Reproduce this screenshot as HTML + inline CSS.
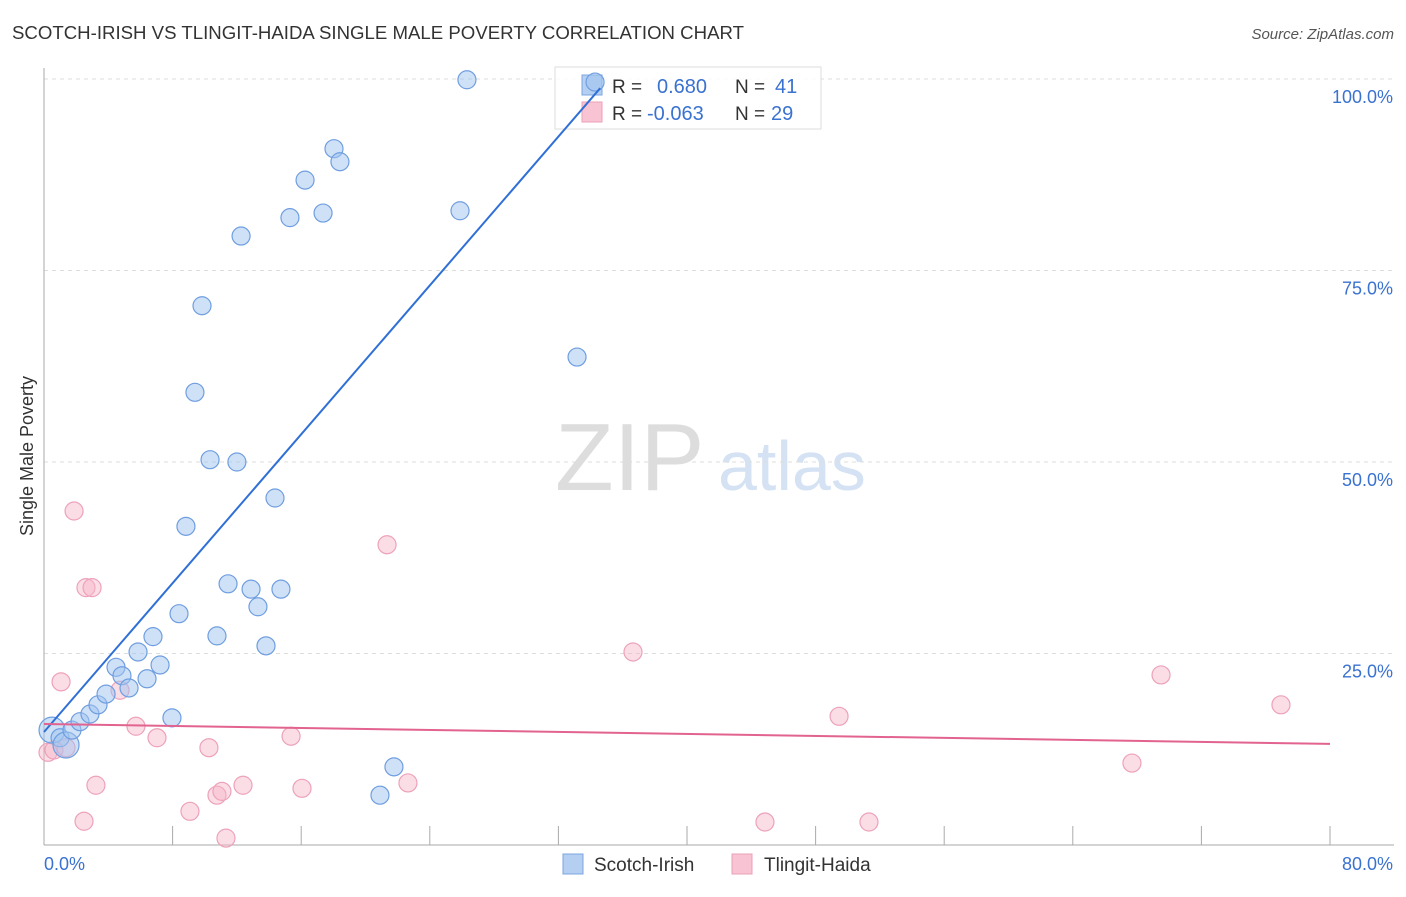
<!DOCTYPE html>
<html><head><meta charset="utf-8"><style>
body{margin:0;background:#fff;font-family:"Liberation Sans",sans-serif;}
svg text{font-family:"Liberation Sans",sans-serif;}
</style></head><body>
<svg id="chart" width="1406" height="892">
<text x="12" y="39" font-size="18" fill="#333" textLength="732" lengthAdjust="spacingAndGlyphs">SCOTCH-IRISH VS TLINGIT-HAIDA SINGLE MALE POVERTY CORRELATION CHART</text>
<text x="1394" y="39" font-size="15" fill="#555" font-style="italic" text-anchor="end">Source: ZipAtlas.com</text>
<text x="33" y="456" font-size="18" fill="#333" text-anchor="middle" transform="rotate(-90 33 456)">Single Male Poverty</text>
<text x="555" y="490" font-size="96" fill="#ddd" font-family="Liberation Serif">ZIP</text>
<text x="718" y="490" font-size="70" fill="#d4e2f4">atlas</text>
<g id="grid"></g>
<g>
<rect x="555" y="67" width="266" height="62" fill="#fff" fill-opacity="0.85" stroke="#ddd"/>
<rect x="582" y="75" width="20" height="20" fill="#b5cff2" stroke="#7aa6e0"/>
<rect x="582" y="102" width="20" height="20" fill="#f8c3d3" stroke="#eba0b8"/>
<text x="612" y="93" font-size="19" fill="#333">R = </text><text x="657" y="93" font-size="20" fill="#3a72d0">0.680</text>
<text x="735" y="93" font-size="19" fill="#333">N = </text><text x="775" y="93" font-size="20" fill="#3a72d0">41</text>
<text x="612" y="120" font-size="19" fill="#333">R = </text><text x="647" y="120" font-size="20" fill="#3a72d0">-0.063</text>
<text x="735" y="120" font-size="19" fill="#333">N = </text><text x="771" y="120" font-size="20" fill="#3a72d0">29</text>
</g>
<g id="pts"></g><g id="lines"></g>
<g>
<rect x="563" y="854" width="20" height="20" fill="#b5cff2" stroke="#7aa6e0"/>
<text x="594" y="871" font-size="19" fill="#333">Scotch-Irish</text>
<rect x="732" y="854" width="20" height="20" fill="#f8c3d3" stroke="#eba0b8"/>
<text x="764" y="871" font-size="19" fill="#333">Tlingit-Haida</text>
</g>
</svg>
<script>
const yTicks=[25,50,75,100];
const yTickLabels=["25.0%","50.0%","75.0%","100.0%"];
const blueX=[0.5,1.0,1.37,1.74,2.24,2.86,3.36,3.86,4.48,4.85,5.29,5.85,6.41,6.78,7.22,7.96,8.4,8.83,9.39,9.83,10.33,10.76,11.45,12.0,12.26,12.88,13.31,13.81,14.37,14.74,15.3,16.24,17.36,18.04,18.41,20.9,21.77,25.88,26.31,33.16,34.28];
const blueY=[15.0,14.0,13.05,15.0,16.1,17.1,18.3,19.7,23.2,22.1,20.5,25.2,21.7,27.2,23.5,16.6,30.2,41.6,59.1,70.4,50.3,27.3,34.1,50.0,79.5,33.4,31.1,26.0,45.3,33.4,81.9,86.8,82.5,90.9,89.2,6.5,10.2,82.8,99.9,63.7,99.6];
const pinkX=[0.25,0.62,1.06,1.37,1.87,2.61,2.99,3.23,2.49,4.73,5.72,7.03,9.08,10.26,10.76,11.07,11.32,12.38,15.37,16.05,21.34,22.64,36.64,44.85,49.46,51.32,67.68,69.49,76.95];
const pinkY=[12.1,12.4,21.3,12.7,43.6,33.6,33.6,7.8,3.1,20.2,15.5,14.0,4.4,12.7,6.5,7.0,0.9,7.8,14.2,7.4,39.2,8.1,25.2,3.0,16.8,3.0,10.7,22.2,18.3];
const blueLine=[[0,14.75],[34.6,98.8]];
const pinkLine=[[0,15.8],[80,13.2]];
const NS="http://www.w3.org/2000/svg";
const X=v=>44+v*16.075, Y=v=>845-v*7.66;
function mk(t,a,p){const e=document.createElementNS(NS,t);for(const k in a)e.setAttribute(k,a[k]);p.appendChild(e);return e;}
const g=document.getElementById('grid');
yTicks.forEach((t,i)=>{
 const l=mk('line',{x1:44,x2:1394,y1:Y(t),y2:Y(t),stroke:'#ddd','stroke-dasharray':'4,4'},g);
 
 
 const tx=mk('text',{x:1393,y:Y(t)+24,'font-size':18,fill:'#3a72d0','text-anchor':'end'},g);
 tx.textContent=yTickLabels[i];
 
 
});
mk('line',{x1:44,x2:44,y1:68,y2:845,stroke:'#aaa'},g);
mk('line',{x1:44,x2:1394,y1:845,y2:845,stroke:'#aaa'},g);
for(let i=1;i<=10;i++){const t=mk('line',{x1:X(i*8),x2:X(i*8),y1:826,y2:845,stroke:'#aaa'},g);}
const x0=mk('text',{x:44,y:870,'font-size':18,fill:'#3a72d0'},g);x0.textContent='0.0%';


const x1=mk('text',{x:1393,y:870,'font-size':18,fill:'#3a72d0','text-anchor':'end'},g);x1.textContent='80.0%';


const p=document.getElementById('pts');
pinkX.forEach((v,i)=>{const c=mk('circle',{cx:X(v),cy:Y(pinkY[i]),r:9,fill:'rgba(246,180,200,0.45)',stroke:'#eda2ba','stroke-width':1.2},p);
 
 });
blueX.forEach((v,i)=>{const r=(i===0||i===2)?13:9;const c=mk('circle',{cx:X(v),cy:Y(blueY[i]),r:r,fill:'rgba(160,196,240,0.5)',stroke:'#6f9ee0','stroke-width':1.2},p);
 
 });
const L=document.getElementById('lines');
const bl=mk('line',{x1:X(blueLine[0][0]),y1:Y(blueLine[0][1]),x2:X(blueLine[1][0]),y2:Y(blueLine[1][1]),stroke:'#2f6fd6','stroke-width':2},L);


const pl=mk('line',{x1:X(pinkLine[0][0]),y1:Y(pinkLine[0][1]),x2:X(pinkLine[1][0]),y2:Y(pinkLine[1][1]),stroke:'#e2638f','stroke-width':2},L);


</script>
</body></html>
